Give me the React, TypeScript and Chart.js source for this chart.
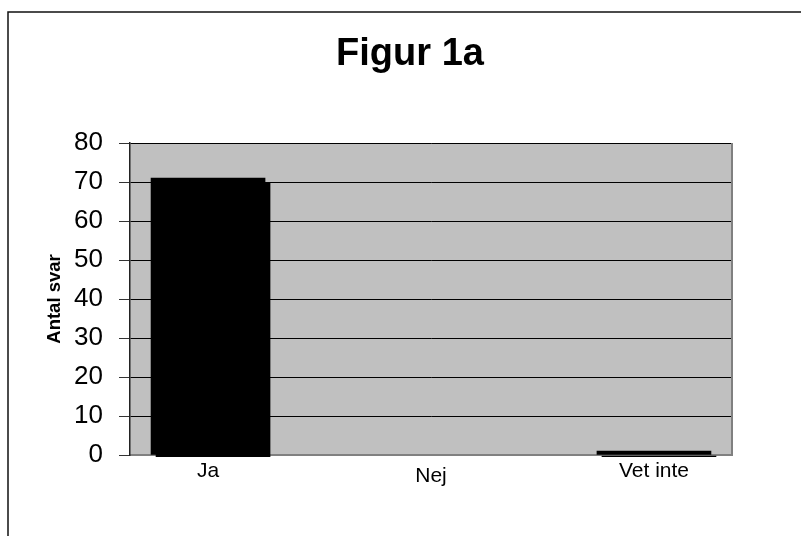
import React, { useEffect, useRef } from 'react';
import { Chart, registerables } from 'chart.js';

Chart.register(...registerables);

// Survey answers
const categories = ['Ja', 'Nej', 'Vet inte'];
const positions = [0, 1, 2];
const answers = [71, 0, 1];

const chartTitle = 'Figur 1a';
const yAxisTitle = 'Antal svar';
const yMin = 0;
const yMax = 80;
const yStep = 10;

const FONT = '"Liberation Sans", Arial, sans-serif';

// Grey plot background plus the grey right edge of the plot frame
const plotFrame = {
  id: 'plotFrame',
  beforeDraw(chart: any) {
    const { ctx, chartArea: a } = chart;
    ctx.save();
    ctx.fillStyle = '#c0c0c0';
    ctx.fillRect(a.left, a.top, a.right - a.left, a.bottom - a.top);
    ctx.restore();
  },
  beforeDatasetsDraw(chart: any) {
    const { ctx, chartArea: a } = chart;
    ctx.save();
    ctx.strokeStyle = '#808080';
    ctx.lineWidth = 2;
    ctx.beginPath();
    ctx.moveTo(a.right, a.top);
    ctx.lineTo(a.right, a.bottom);
    ctx.stroke();
    ctx.restore();
  },
};

// Outer border of the chart object (left and top edges visible)
const outerBorder = {
  id: 'outerBorder',
  afterDraw(chart: any) {
    const { ctx, width, height } = chart;
    ctx.save();
    ctx.strokeStyle = '#111';
    ctx.lineWidth = 1.5;
    ctx.beginPath();
    ctx.moveTo(8, height + 5);
    ctx.lineTo(8, 12);
    ctx.lineTo(width + 5, 12);
    ctx.stroke();
    ctx.restore();
  },
};

// Hard black drop shadow on the bars
const barShadow = {
  id: 'barShadow',
  beforeDatasetDraw(chart: any) {
    const c = chart.ctx;
    c.save();
    c.shadowColor = '#000';
    c.shadowBlur = 0;
    c.shadowOffsetX = 5;
    c.shadowOffsetY = 5;
  },
  afterDatasetDraw(chart: any) {
    chart.ctx.restore();
  },
};

export default function App() {
  const canvasRef = useRef<HTMLCanvasElement | null>(null);

  useEffect(() => {
    if (!canvasRef.current) return;
    const chart = new Chart(canvasRef.current, {
      type: 'bar',
      data: {
        datasets: [
          {
            label: yAxisTitle,
            data: positions.map((x, i) => ({ x, y: answers[i] })),
            // an empty answer leaves no mark (and no shadow)
            backgroundColor: (ctx: any) =>
              ctx.raw && ctx.raw.y === 0 ? 'rgba(0,0,0,0)' : '#000',
            borderWidth: 0,
            barThickness: 114,
            clip: { left: 0, top: 0, right: 10, bottom: 2 },
          } as any,
        ],
      },
      options: {
        responsive: false,
        animation: false,
        layout: { padding: { left: 19, right: 0, top: 0, bottom: 0 } },
        plugins: {
          legend: { display: false },
          tooltip: { enabled: false },
          title: {
            display: true,
            text: chartTitle,
            color: '#000',
            font: { family: FONT, size: 38, weight: 'bold', lineHeight: 1.2 },
            padding: { top: 32, bottom: 65.4 },
          },
        },
        scales: {
          x: {
            type: 'linear',
            offset: false,
            min: -0.35,
            max: 2.35,
            afterBuildTicks: (scale: any) => {
              scale.ticks = positions.map((v) => ({ value: v }));
            },
            afterFit: (scale: any) => {
              scale.height = 81;
            },
            grid: { display: false, tickLength: 0 },
            border: { display: true, color: '#808080', width: 2 },
            ticks: {
              autoSkip: false,
              maxRotation: 0,
              color: '#000',
              padding: 3.5,
              font: (ctx: any) =>
                ctx.index === 1
                  ? { family: FONT, size: 21, lineHeight: 0.575 }
                  : { family: FONT, size: 21, lineHeight: 1.2 },
              callback: (v: any) => {
                const i = positions.indexOf(Number(v));
                if (i < 0) return '';
                return i === 1 ? ['', categories[i]] : categories[i];
              },
            },
          },
          y: {
            min: yMin,
            max: yMax,
            afterFit: (scale: any) => {
              scale.width = 111;
            },
            border: { display: true, color: '#222', width: 1.5 },
            grid: {
              color: (ctx: any) => (ctx.tick && ctx.tick.value === 0 ? 'rgba(0,0,0,0)' : '#000'),
              tickColor: '#333',
              tickLength: 11,
              lineWidth: 1,
            },
            ticks: {
              stepSize: yStep,
              color: '#000',
              padding: 16,
              font: { family: FONT, size: 26 },
            },
            title: {
              display: true,
              text: yAxisTitle,
              color: '#000',
              font: { family: FONT, size: 18.5, weight: 'bold', lineHeight: 1.2 },
              padding: { top: 25, bottom: 0 },
            },
          },
          // empty right-hand axis that only reserves the margin right of the plot
          yRight: {
            position: 'right',
            display: true,
            min: yMin,
            max: yMax,
            afterFit: (scale: any) => {
              scale.width = 69;
            },
            grid: { display: false, drawOnChartArea: false },
            border: { display: false },
            ticks: { display: false },
          },
        },
      } as any,
      plugins: [plotFrame, barShadow, outerBorder],
    });
    return () => chart.destroy();
  }, []);

  return (
    <div style={{ position: 'absolute', left: 0, top: 0, width: 801, height: 536, background: '#fff' }}>
      <canvas ref={canvasRef} width={801} height={536} style={{ width: 801, height: 536, display: 'block' }} />
    </div>
  );
}
